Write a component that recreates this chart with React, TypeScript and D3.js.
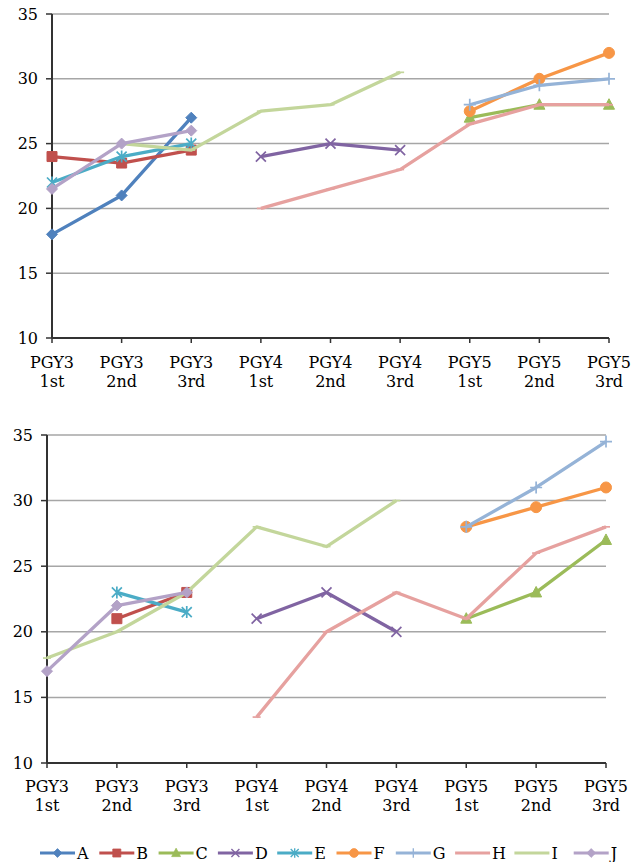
import React from "react";
import * as d3 from "d3";

const catYear = ["PGY3", "PGY3", "PGY3", "PGY4", "PGY4", "PGY4", "PGY5", "PGY5", "PGY5"];
const catTerm = ["1st", "2nd", "3rd", "1st", "2nd", "3rd", "1st", "2nd", "3rd"];
const yTicks = [10, 15, 20, 25, 30, 35];

const seriesNames = ["A", "B", "C", "D", "E", "F", "G", "H", "I", "J"];
const seriesColors = ["#4F81BD", "#C0504D", "#9BBB59", "#8064A2", "#4BACC6", "#F79646", "#95B3D7", "#E6A19F", "#C3D69B", "#B3A2C7"];
const seriesMarkers = ["diamond", "square", "triangle", "x", "star", "circle", "plus", "dash", "dash", "diamond"];

type V = number | null;
const N: null = null;

const topA: V[] = [18, 21, 27, N, N, N, N, N, N];
const topB: V[] = [24, 23.5, 24.5, N, N, N, N, N, N];
const topC: V[] = [N, N, N, N, N, N, 27, 28, 28];
const topD: V[] = [N, N, N, 24, 25, 24.5, N, N, N];
const topE: V[] = [22, 24, 25, N, N, N, N, N, N];
const topF: V[] = [N, N, N, N, N, N, 27.5, 30, 32];
const topG: V[] = [N, N, N, N, N, N, 28, 29.5, 30];
const topH: V[] = [N, N, N, 20, 21.5, 23, 26.5, 28, 28];
const topI: V[] = [N, 25, 24.5, 27.5, 28, 30.5, N, N, N];
const topJ: V[] = [21.5, 25, 26, N, N, N, N, N, N];

const botA: V[] = [N, N, N, N, N, N, N, N, N];
const botB: V[] = [N, 21, 23, N, N, N, N, N, N];
const botC: V[] = [N, N, N, N, N, N, 21, 23, 27];
const botD: V[] = [N, N, N, 21, 23, 20, N, N, N];
const botE: V[] = [N, 23, 21.5, N, N, N, N, N, N];
const botF: V[] = [N, N, N, N, N, N, 28, 29.5, 31];
const botG: V[] = [N, N, N, N, N, N, 28, 31, 34.5];
const botH: V[] = [N, N, N, 13.5, 20, 23, 21, 26, 28];
const botI: V[] = [18, 20, 23, 28, 26.5, 30, N, N, N];
const botJ: V[] = [17, 22, 23, N, N, N, N, N, N];

const topSeries = [topA, topB, topC, topD, topE, topF, topG, topH, topI, topJ];
const botSeries = [botA, botB, botC, botD, botE, botF, botG, botH, botI, botJ];

const FONT = "'DejaVu Serif', 'Liberation Serif', serif";

function markerPath(kind: string): { d: string; fill: boolean } {
  switch (kind) {
    case "diamond":
      return { d: "M0,-5.5L5.5,0L0,5.5L-5.5,0Z", fill: true };
    case "square":
      return { d: "M-5,-5H5V5H-5Z", fill: true };
    case "triangle":
      return { d: "M0,-6L5.5,4.5H-5.5Z", fill: true };
    case "circle":
      return { d: "M5.5,0A5.5,5.5 0 1,1 -5.5,0A5.5,5.5 0 1,1 5.5,0Z", fill: true };
    case "x":
      return { d: "M-5,-5L5,5M-5,5L5,-5", fill: false };
    case "star":
      return { d: "M-5,-5L5,5M-5,5L5,-5M0,-6V6", fill: false };
    case "plus":
      return { d: "M-6,0H6M0,-6V6", fill: false };
    case "dash":
      return { d: "M-4,0H4", fill: false };
    default:
      return { d: "", fill: false };
  }
}

function Marker({ x, y, kind, color, scale = 1 }: { x: number; y: number; kind: string; color: string; scale?: number }) {
  const m = markerPath(kind);
  return (
    <path
      transform={`translate(${x},${y}) scale(${scale})`}
      d={m.d}
      fill={m.fill ? color : "none"}
      stroke={color}
      strokeWidth={m.fill ? 1 : 1.7}
    />
  );
}

function Chart({ series, x0, x1, yTop, yBot, labelY }: { series: V[][]; x0: number; x1: number; yTop: number; yBot: number; labelY: number }) {
  const idx = catYear.map((_, i) => String(i));
  const x = d3.scalePoint<string>().domain(idx).range([x0, x1]).padding(0);
  const y = d3.scaleLinear().domain([10, 35]).range([yBot, yTop]);
  const line = d3
    .line<V>()
    .defined((d) => d != null)
    .x((_, i) => x(String(i)) as number)
    .y((d) => y(d as number));
  return (
    <g>
      {yTicks.map((t) => (
        <g key={t}>
          {t > 10 && <line x1={x0} x2={x1} y1={y(t)} y2={y(t)} stroke="#a6a6a6" strokeWidth={1.5} />}
          <line x1={x0 - 6} x2={x0} y1={y(t)} y2={y(t)} stroke="#333" strokeWidth={1.5} />
          <text x={x0 - 14} y={y(t)} dy="0.35em" textAnchor="end" fontFamily={FONT} fontSize={16} fill="#000">
            {t}
          </text>
        </g>
      ))}
      <line x1={x0} x2={x0} y1={yTop} y2={yBot} stroke="#333" strokeWidth={2} />
      <line x1={x0} x2={x1} y1={yBot} y2={yBot} stroke="#333" strokeWidth={2} />
      {idx.map((k, i) => (
        <g key={k}>
          <line x1={x(k)} x2={x(k)} y1={yBot} y2={yBot + 5} stroke="#333" strokeWidth={1.5} />
          <text x={x(k)} y={labelY} textAnchor="middle" fontFamily={FONT} fontSize={16} fill="#000">
            {catYear[i]}
          </text>
          <text x={x(k)} y={labelY + 19} textAnchor="middle" fontFamily={FONT} fontSize={16} fill="#000">
            {catTerm[i]}
          </text>
        </g>
      ))}
      {series.map((s, si) => (
        <g key={si}>
          <path d={line(s) || ""} fill="none" stroke={seriesColors[si]} strokeWidth={3.3} strokeLinejoin="round" />
          {s.map((v, i) =>
            v == null ? null : (
              <Marker key={i} x={x(String(i)) as number} y={y(v)} kind={seriesMarkers[si]} color={seriesColors[si]} />
            )
          )}
        </g>
      ))}
    </g>
  );
}

function Legend({ y }: { y: number }) {
  const step = 59.3;
  const start = 40;
  return (
    <g>
      {seriesNames.map((n, i) => {
        const lx = start + i * step;
        return (
          <g key={n}>
            <line x1={lx} x2={lx + 35} y1={y} y2={y} stroke={seriesColors[i]} strokeWidth={3} />
            <Marker x={lx + 17.5} y={y} kind={seriesMarkers[i]} color={seriesColors[i]} scale={0.8} />
            <text x={lx + 37} y={y} dy="0.36em" fontFamily={FONT} fontSize={16} fill="#000">
              {n}
            </text>
          </g>
        );
      })}
    </g>
  );
}

export default function App() {
  return (
    <svg width={641} height={862} style={{ position: "absolute", left: 0, top: 0, background: "#fff" }}>
      <rect width={641} height={862} fill="#fff" />
      <Chart series={topSeries} x0={52} x1={609} yTop={14} yBot={338} labelY={368} />
      <Chart series={botSeries} x0={47} x1={606} yTop={435} yBot={763} labelY={792} />
      <Legend y={853} />
    </svg>
  );
}
